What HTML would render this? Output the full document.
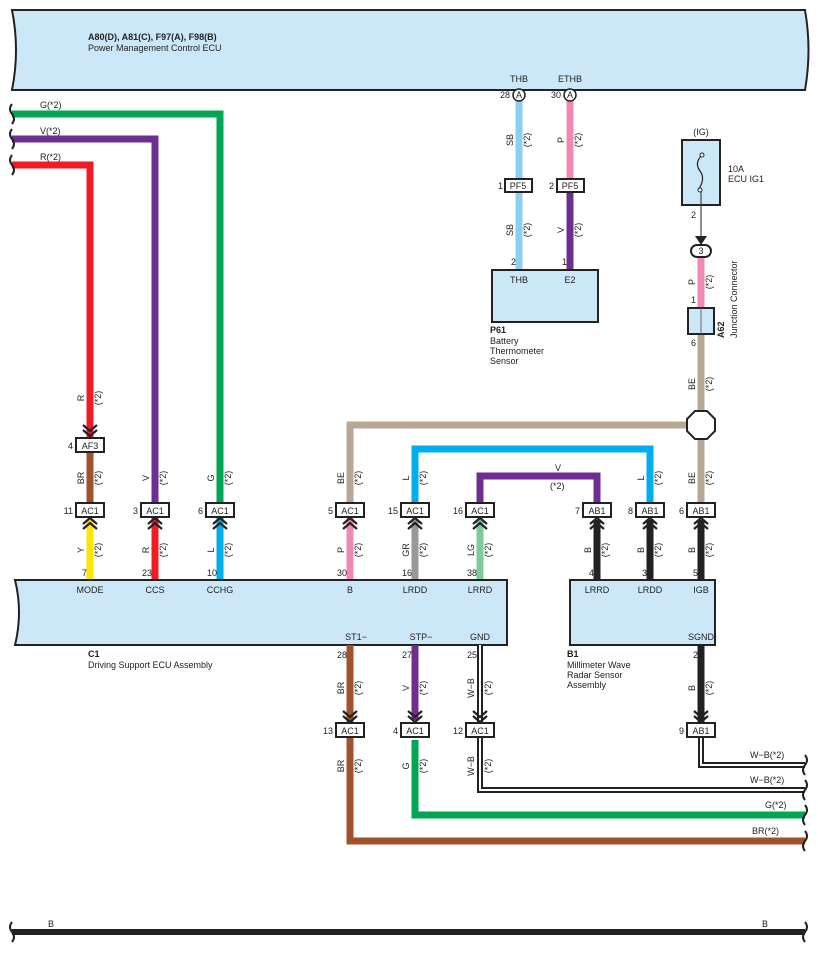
<!DOCTYPE html><html><head><meta charset="utf-8"><style>body{margin:0;background:#fff}svg{display:block}text{font-family:"Liberation Sans",sans-serif;font-size:9px;fill:#222}</style></head><body>
<svg id="s" width="818" height="954" viewBox="0 0 818 954" xmlns="http://www.w3.org/2000/svg"></svg>
<script>
const s=document.getElementById('s');let h='';
const C={R:'#ee1c25',V:'#6f2c91',G:'#00a651',BR:'#a0522d',Y:'#ffe600',L:'#00aeef',P:'#f088b6',GR:'#999',LG:'#7fcc9a',BE:'#b8a794',B:'#222',SB:'#8dcff0'};
function w(pts,c,wd){h+=`<polyline points="${pts}" fill="none" stroke="${c}" stroke-width="${wd||7}"/>`}
function wb(pts){w(pts,'#222',6);w(pts,'#fff',2)}
function t(x,y,str,o){o=o||'';h+=`<text x="${x}" y="${y}" ${o}>${str}</text>`}
function rt(x,y,str){h+=`<text transform="translate(${x},${y}) rotate(-90)" text-anchor="middle">${str}</text>`}
function lab(x,y,c){rt(x-6,y,c);rt(x+11,y,'(*2)')}
function box(x,y,n,p){h+=`<rect x="${x-14}" y="${y-7}" width="28" height="14" fill="#fff" stroke="#222" stroke-width="2"/>`;t(x,y+4,n,'text-anchor="middle"');t(x-17,y+4,p,'text-anchor="end"')}
function up(x,y){for(const d of [0,5])h+=`<polyline points="${x-7},${y+d+6} ${x},${y+d} ${x+7},${y+d+6}" fill="none" stroke="#222" stroke-width="2.2"/>`}
function dn(x,y){for(const d of [0,5])h+=`<polyline points="${x-7},${y+d} ${x},${y+d+6} ${x+7},${y+d}" fill="none" stroke="#222" stroke-width="2.2"/>`}
h+=`<path d="M12,10 H805 Q812,50 805,90 H12 Q20,50 12,10Z" fill="#cce8f8" stroke="#222" stroke-width="2"/>`;
t(88,40,'A80(D), A81(C), F97(A), F98(B)','font-weight="bold"');t(88,51,'Power Management Control ECU');
w('12,114 220,114 220,580',C.G);w('12,139 155,139 155,580',C.V);w('12,165 90,165 90,438',C.R);
for(const y of[114,139,165])h+=`<path d="M12,${y-10} q-4,5 0,10 q4,5 0,10" fill="none" stroke="#222" stroke-width="2"/>`;
t(40,108,'G(*2)');t(40,134,'V(*2)');t(40,160,'R(*2)');
w('90,450 90,510',C.BR);w('90,520 90,580',C.Y);w('155,520 155,580',C.R);w('220,520 220,580',C.L);
lab(90,398,'R');dn(90,425);box(90,445,'AF3','4');lab(90,478,'BR');
w('350,580 350,425 690,425',C.BE);w('350,520 350,580',C.P);
w('415,510 415,449 650,449 650,510',C.L);w('415,520 415,580',C.GR);
w('480,510 480,476 597,476 597,510',C.V);w('480,520 480,580',C.LG);
w('597,520 597,580',C.B);w('650,520 650,580',C.B);w('701,520 701,580',C.B);w('701,334 701,510',C.BE);
t(555,471,'V');t(550,489,'(*2)');
const cols=[[90,'AC1','11','Y',7,'MODE'],[155,'AC1','3','R',23,'CCS','V'],[220,'AC1','6','L',10,'CCHG','G'],[350,'AC1','5','P',30,'B','BE'],[415,'AC1','15','GR',16,'LRDD','L'],[480,'AC1','16','LG',38,'LRRD'],[597,'AB1','7','B',4,'LRRD'],[650,'AB1','8','B',3,'LRDD','L'],[701,'AB1','6','B',5,'IGB','BE']];
h+=`<polygon points="695,411 707,411 715,419 715,431 707,439 695,439 687,431 687,419" fill="#fff" stroke="#222" stroke-width="2"/>`;
h+=`<path d="M15,580 H507 V645 H15 Q23,612 15,580Z" fill="#cce8f8" stroke="#222" stroke-width="2"/>`;
h+=`<rect x="570" y="580" width="145" height="65" fill="#cce8f8" stroke="#222" stroke-width="2"/>`;
for(const c of cols){box(c[0],510,c[1],c[2]);up(c[0],518);lab(c[0],550,c[3]);t(c[0]-3,576,c[4],'text-anchor="end"');t(c[0],593,c[5],'text-anchor="middle"');if(c[6])lab(c[0],478,c[6])}
t(88,657,'C1','font-weight="bold"');t(88,668,'Driving Support ECU Assembly');
t(567,657,'B1','font-weight="bold"');t(567,668,'Millimeter Wave');t(567,678,'Radar Sensor');t(567,688,'Assembly');
t(356,640,'ST1−','text-anchor="middle"');t(421,640,'STP−','text-anchor="middle"');t(480,640,'GND','text-anchor="middle"');t(701,640,'SGND','text-anchor="middle"');
w('805,841 350,841 350,645',C.BR);w('805,815 415,815 415,740',C.G);w('415,645 415,720',C.V);
wb('480,645 480,722');wb('805,790 480,790 480,737');w('701,645 701,722',C.B);wb('805,765 701,765 701,737');
for(const y of[765,790,815,841])h+=`<path d="M805,${y-10} q4,5 0,10 q-4,5 0,10" fill="none" stroke="#222" stroke-width="2"/>`;
t(750,758,'W−B(*2)');t(750,783,'W−B(*2)');t(765,808,'G(*2)');t(752,834,'BR(*2)');
for(const c of[[350,'13','BR','ST1','28','BR'],[415,'4','V','','27','G'],[480,'12','W−B','','25','W−B'],[701,'9','B','','2','']]){t(c[0]-3,658,c[4],'text-anchor="end"');lab(c[0],688,c[2]);dn(c[0],711);box(c[0],730,c[0]==701?'AB1':'AC1',c[1]);if(c[5])lab(c[0],766,c[5])}
w('519,100 519,180',C.SB);w('519,192 519,270',C.SB);w('570,100 570,180',C.P);w('570,192 570,270',C.V);
for(const [x,p,n] of[[519,'28','THB'],[570,'30','ETHB']]){h+=`<circle cx="${x}" cy="95" r="6" fill="#fff" stroke="#222" stroke-width="1.5"/>`;t(x,98,'A','text-anchor="middle" font-size="8"');t(x-9,98,p,'text-anchor="end"');t(x,82,n,'text-anchor="middle"')}
h+=`<rect x="505" y="179" width="27" height="13" fill="#fff" stroke="#222" stroke-width="2"/><rect x="557" y="179" width="27" height="13" fill="#fff" stroke="#222" stroke-width="2"/>`;
t(518,189,'PF5','text-anchor="middle"');t(570,189,'PF5','text-anchor="middle"');t(503,189,'1','text-anchor="end"');t(554,189,'2','text-anchor="end"');
lab(519,140,'SB');lab(570,140,'P');lab(519,230,'SB');lab(570,230,'V');t(516,265,'2','text-anchor="end"');t(567,265,'1','text-anchor="end"');
h+=`<rect x="492" y="270" width="106" height="52" fill="#cce8f8" stroke="#222" stroke-width="2"/>`;
t(519,283,'THB','text-anchor="middle"');t(570,283,'E2','text-anchor="middle"');
t(490,333,'P61','font-weight="bold"');t(490,344,'Battery');t(490,354,'Thermometer');t(490,364,'Sensor');
t(701,135,'(IG)','text-anchor="middle"');
h+=`<rect x="682" y="140" width="38" height="65" fill="#cce8f8" stroke="#222" stroke-width="2"/>`;
h+=`<path d="M702,155 q-8,8 -2,16 q6,8 -2,19" fill="none" stroke="#222" stroke-width="1.2"/><circle cx="702" cy="155" r="2" fill="#fff" stroke="#222"/><circle cx="700" cy="190" r="2" fill="#fff" stroke="#222"/>`;
h+=`<line x1="701" y1="192" x2="701" y2="238" stroke="#444" stroke-width="1.2"/><polygon points="695,236 707,236 701,245" fill="#222"/>`;
t(728,172,'10A');t(728,182,'ECU IG1');t(696,218,'2','text-anchor="end"');
w('701,255 701,308',C.P);
h+=`<rect x="691" y="245" width="20" height="12" rx="6" fill="#fff" stroke="#222" stroke-width="2"/>`;t(701,254,'3','text-anchor="middle"');
lab(701,282,'P');t(696,303,'1','text-anchor="end"');
h+=`<rect x="688" y="308" width="26" height="26" fill="#cce8f8" stroke="#222" stroke-width="2"/><line x1="701" y1="308" x2="701" y2="334" stroke="#666"/>`;
t(696,346,'6','text-anchor="end"');lab(701,384,'BE');
h+=`<text transform="translate(724,338) rotate(-90)" font-weight="bold">A62</text><text transform="translate(737,338) rotate(-90)">Junction Connector</text>`;
w('12,932 805,932','#222',6);
h+=`<path d="M12,922 q-4,5 0,10 q4,5 0,10" fill="none" stroke="#222" stroke-width="2"/><path d="M805,922 q4,5 0,10 q-4,5 0,10" fill="none" stroke="#222" stroke-width="2"/>`;
t(48,927,'B');t(762,927,'B');
s.innerHTML=h;
</script></body></html>
